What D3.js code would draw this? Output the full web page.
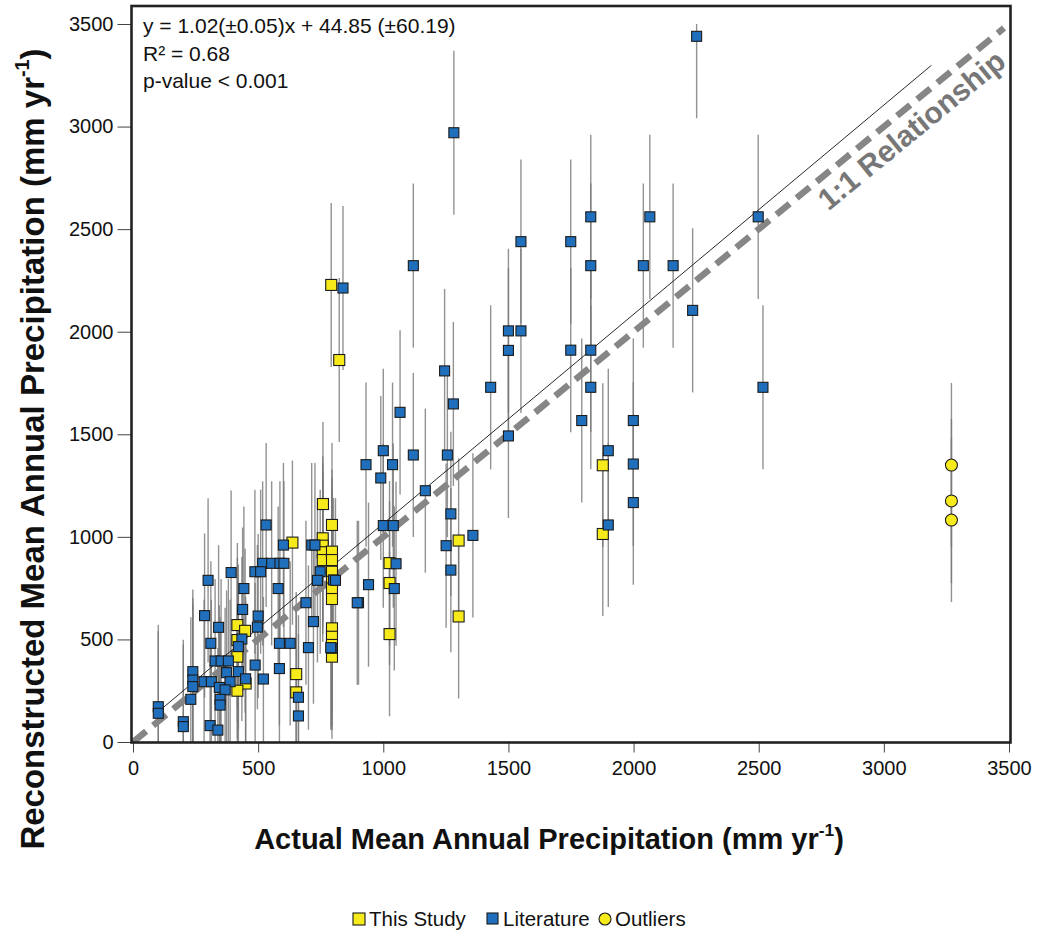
<!DOCTYPE html>
<html>
<head>
<meta charset="utf-8">
<script src="https://cdn.jsdelivr.net/npm/d3@7"></script>
<style>
  html, body { margin: 0; padding: 0; background: #ffffff; }
  svg { display: block; font-family: "Liberation Sans", Arial, Helvetica, sans-serif; }
</style>
</head>
<body>
<svg id="chart" width="1037" height="932"></svg>
<script>
// Mean annual precipitation: actual vs. reconstructed (mm/yr)

// This Study (yellow squares)
const studyX = [759, 795, 637, 758, 758, 758, 758, 795, 795, 795, 795, 795, 795, 795, 795, 795, 795,
  417, 448, 417, 417, 450, 417, 652, 652, 1025, 1025, 1025, 1301, 1301, 1877, 1877, 792, 824];
const studyY = [1160, 1058, 972, 993, 957, 925, 887, 928, 887, 830, 781, 748, 697, 554, 513, 473, 416,
  570, 542, 497, 416, 285, 250, 331, 242, 872, 775, 526, 982, 612, 1349, 1014, 2228, 1862];

// Literature (blue squares)
const litX = [2252, 1282, 1829, 2065, 2498, 1749, 1550, 1120, 1829, 2039, 2158, 2236, 1500, 1550, 1749, 1829,
  1500, 839, 1245, 1429, 1829, 2517, 1280, 1067, 1793, 1999, 1500, 1000, 1899, 931, 1037, 1120, 1256,
  1999, 990, 1168, 1999, 1270, 1000, 1040, 1899, 1358, 1251, 1270, 941, 901, 1051, 1044, 801, 795,
  532, 601, 714, 727, 518, 554, 587, 603, 487, 510, 392, 748, 300, 737, 809, 443, 580, 896, 691, 438,
  286, 500, 721, 342, 497, 435, 311, 585, 628, 701, 790, 421, 328, 352, 381, 488, 585, 239, 239, 239,
  284, 313, 374, 388, 421, 345, 368, 450, 521, 661, 661, 231, 348, 348, 101, 101, 201, 201, 308, 339];
const litY = [3440, 2970, 2560, 2560, 2560, 2439, 2439, 2322, 2322, 2322, 2322, 2104, 2004, 2004, 1910, 1910,
  1909, 2213, 1809, 1729, 1729, 1729, 1648, 1607, 1567, 1567, 1492, 1420, 1420, 1352, 1352, 1399, 1399,
  1355, 1287, 1225, 1167, 1112, 1055, 1055, 1058, 1007, 957, 838, 767, 679, 869, 748, 790, 457,
  1058, 960, 960, 960, 871, 871, 871, 871, 830, 830, 826, 830, 788, 788, 788, 748, 748, 679, 679, 646,
  616, 614, 587, 559, 560, 502, 481, 481, 481, 460, 460, 465, 395, 395, 395, 375, 358, 343, 302, 270,
  294, 294, 338, 294, 343, 266, 254, 308, 307, 218, 127, 208, 208, 180, 172, 140, 99, 75, 80, 58];

// Outliers (yellow circles)
const outlierX = [3270, 3270, 3270];
const outlierY = [1350, 1175, 1082];

// Uncertainty of each reconstruction (± mm/yr)
const errorHalfWidth = 400;

// Fitted regression (from the reported equation) and the x-range it spans
const regSlope = 1.02;
const regIntercept = 44.85;
const regExtent = [100, 3190];

// Axis ticks
const xTicks = [0, 500, 1000, 1500, 2000, 2500, 3000, 3500];
const yTicks = [0, 500, 1000, 1500, 2000, 2500, 3000, 3500];

const statsLines = ["y = 1.02(\u00b10.05)x + 44.85 (\u00b160.19)", "R\u00b2 = 0.68", "p-value < 0.001"];
const legendLabels = ["This Study", "Literature", "Outliers"];

// ---------------------------------------------------------------------------
const svg = d3.select("#chart");
const x = d3.scaleLinear().domain([0, 3500]).range([133, 1009]);
const y = d3.scaleLinear().domain([0, 3500]).range([742, 24]);

const frame = { left: 131.5, top: 6, right: 1010.5, bottom: 742.5 };

const BLUE = "#1f6fbc";
const YELLOW = "#f7ea1b";
const EDGE = "#1b1b1b";

const study = studyX.map((v, i) => ({ x: v, y: studyY[i] }));
const lit = litX.map((v, i) => ({ x: v, y: litY[i] }));
const outliers = outlierX.map((v, i) => ({ x: v, y: outlierY[i] }));
const all = study.concat(lit, outliers);

svg.append("defs").append("clipPath").attr("id", "plotClip")
  .append("rect")
  .attr("x", frame.left).attr("y", frame.top)
  .attr("width", frame.right - frame.left).attr("height", frame.bottom - frame.top);

const plot = svg.append("g").attr("clip-path", "url(#plotClip)");

// error bars
const clampY = v => Math.max(0, Math.min(3500, v));
plot.append("g").selectAll("line").data(all).join("line")
  .attr("x1", d => x(d.x)).attr("x2", d => x(d.x))
  .attr("y1", d => y(clampY(d.y + errorHalfWidth)))
  .attr("y2", d => y(clampY(d.y - errorHalfWidth)))
  .attr("stroke", "#777777").attr("stroke-width", 1.4).attr("stroke-opacity", 0.8);

// 1:1 line
plot.append("line")
  .attr("x1", x(0)).attr("y1", y(0)).attr("x2", x(3480)).attr("y2", y(3480))
  .attr("stroke", "#868686").attr("stroke-width", 6.5)
  .attr("stroke-dasharray", "17,9");

// regression line
plot.append("line")
  .attr("x1", x(regExtent[0])).attr("y1", y(regSlope * regExtent[0] + regIntercept))
  .attr("x2", x(regExtent[1])).attr("y2", y(regSlope * regExtent[1] + regIntercept))
  .attr("stroke", "#111").attr("stroke-width", 0.9);

// points: this study, then literature on top, then outliers
const sStudy = 11, sLit = 10;
plot.append("g").selectAll("rect").data(study).join("rect")
  .attr("x", d => x(d.x) - sStudy / 2).attr("y", d => y(d.y) - sStudy / 2)
  .attr("width", sStudy).attr("height", sStudy)
  .attr("fill", YELLOW).attr("stroke", EDGE).attr("stroke-width", 1.1);

plot.append("g").selectAll("rect").data(lit).join("rect")
  .attr("x", d => x(d.x) - sLit / 2).attr("y", d => y(d.y) - sLit / 2)
  .attr("width", sLit).attr("height", sLit)
  .attr("fill", BLUE).attr("stroke", EDGE).attr("stroke-width", 1.1);

plot.append("g").selectAll("circle").data(outliers).join("circle")
  .attr("cx", d => x(d.x)).attr("cy", d => y(d.y)).attr("r", 6)
  .attr("fill", YELLOW).attr("stroke", EDGE).attr("stroke-width", 1.1);

// 1:1 label, rotated along the line
const ang = Math.atan2(y(0) - y(3500), x(3500) - x(0)) * 180 / Math.PI;
svg.append("text")
  .attr("transform", `translate(918,138) rotate(${-ang})`)
  .attr("text-anchor", "middle")
  .attr("font-size", 30).attr("font-weight", "bold").attr("fill", "#777777")
  .text("1:1 Relationship");

// axes
const yAxis = svg.append("g").attr("transform", `translate(${frame.left},0)`)
  .call(d3.axisLeft(y).tickValues(yTicks).tickSize(14).tickPadding(4).tickFormat(d3.format("d")));
const xAxis = svg.append("g").attr("transform", `translate(0,${frame.bottom})`)
  .call(d3.axisBottom(x).tickValues(xTicks).tickSize(10).tickPadding(8).tickFormat(d3.format("d")));
[xAxis, yAxis].forEach(a => {
  a.select(".domain").remove();
  a.selectAll(".tick line").attr("stroke", "#444").attr("stroke-width", 1);
  a.selectAll(".tick text").attr("font-size", 20).attr("fill", "#111")
    .attr("font-family", "'Liberation Sans', Arial, sans-serif");
});

// frame
svg.append("rect")
  .attr("x", frame.left).attr("y", frame.top)
  .attr("width", frame.right - frame.left).attr("height", frame.bottom - frame.top)
  .attr("fill", "none").attr("stroke", "#222").attr("stroke-width", 2.6);

// regression statistics
svg.append("g").selectAll("text").data(statsLines).join("text")
  .attr("x", 143).attr("y", (d, i) => 33 + i * 27.5)
  .attr("font-size", 21).attr("fill", "#111")
  .text(d => d);

// axis titles
function unitTitle(sel, main) {
  sel.append("tspan").text(main + " (mm yr");
  sel.append("tspan").attr("font-size", "60%").attr("dy", "-0.75em").text("-1");
  sel.append("tspan").attr("dy", "0.45em").text(")");
}
const xt = svg.append("text")
  .attr("x", 549).attr("y", 849).attr("text-anchor", "middle")
  .attr("font-size", 29).attr("font-weight", "bold").attr("fill", "#111");
unitTitle(xt, "Actual Mean Annual Precipitation");

const yt = svg.append("text")
  .attr("transform", "translate(44,449) rotate(-90)").attr("text-anchor", "middle")
  .attr("font-size", 33).attr("font-weight", "bold").attr("fill", "#111");
unitTitle(yt, "Reconstructed Mean Annual Precipitation");

// legend
const lg = svg.append("g").attr("font-size", 20.5).attr("fill", "#111");
const legendPos = [353, 487, 599];
lg.append("rect").attr("x", legendPos[0]).attr("y", 913).attr("width", 12).attr("height", 12)
  .attr("fill", YELLOW).attr("stroke", EDGE).attr("stroke-width", 1.1);
lg.append("rect").attr("x", legendPos[1]).attr("y", 913).attr("width", 11).attr("height", 11)
  .attr("fill", BLUE).attr("stroke", EDGE).attr("stroke-width", 1.1);
lg.append("circle").attr("cx", legendPos[2] + 6).attr("cy", 919).attr("r", 6)
  .attr("fill", YELLOW).attr("stroke", EDGE).attr("stroke-width", 1.1);
legendLabels.forEach((t, i) => {
  lg.append("text").attr("x", legendPos[i] + 16).attr("y", 926).text(t);
});
</script>
</body>
</html>
